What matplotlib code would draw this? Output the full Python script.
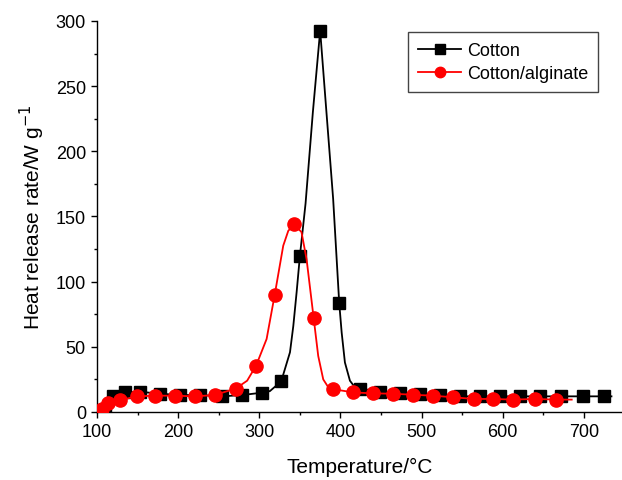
import matplotlib
matplotlib.use('Agg')
import matplotlib.pyplot as plt
from matplotlib.ticker import MultipleLocator
from matplotlib.lines import Line2D

plt.rcParams['font.family'] = ['Liberation Sans', 'DejaVu Sans']

# marker points
cotton_T = [110, 120, 134, 153, 178, 202, 227, 254, 279, 303, 327, 350, 375, 398.5,
            424, 449, 473, 498, 523, 547, 572, 597, 621, 646, 672, 699, 725]
cotton_hrr = [1, 12, 15, 15.5, 14, 13, 13, 12, 13, 14.8, 23.5, 119.5, 292.6, 83.4,
              18, 15.6, 14.8, 13.8, 13, 12, 12, 12, 12, 12, 12, 12, 12]
# extra points (between markers)
cotton_line_T = [313, 337.8, 341.9, 346, 357, 366, 382, 391, 401.5, 405.5, 411.7, 419, 734]
cotton_line_hrr = [16, 45.8, 66, 92, 160, 230, 236, 163.5, 61, 38, 24, 18, 12]

alg_T = [106, 114, 128, 149, 171, 196, 221, 245, 271, 296, 319, 343, 367, 391,
         416, 440, 465, 490, 514, 539, 564, 588, 613, 640, 666]
alg_hrr = [2, 7, 9, 12, 12.5, 12.5, 12, 13, 18, 35.5, 90, 144, 72, 17.5,
           15, 14.3, 14, 13.2, 12.5, 11.3, 10, 10, 9.5, 10, 9.5]
alg_line_T = [285, 309, 329.5, 335.7, 352, 358.3, 372.6, 378.8, 385, 685]
alg_line_hrr = [24, 56, 127.6, 139, 138, 117, 43, 25, 19, 9.5]


def merged(t, v, t2, v2):
    pts = sorted(zip(t + t2, v + v2))
    return [p[0] for p in pts], [p[1] for p in pts]


fig = plt.figure(figsize=(6.22, 4.81), dpi=100)
ax = fig.add_axes([0.156, 0.1414, 0.844, 0.8129])

cx, cy = merged(cotton_T, cotton_hrr, cotton_line_T, cotton_line_hrr)
ax.plot(cx, cy, '-', color='black', lw=1.3, zorder=2)
ax.plot(cotton_T, cotton_hrr, 's', color='black', ms=8, ls='none', zorder=3)

rx, ry = merged(alg_T, alg_hrr, alg_line_T, alg_line_hrr)
ax.plot(rx, ry, '-', color='#ff0000', lw=1.3, zorder=4)
ax.plot(alg_T, alg_hrr, 'o', color='#ff0000', ms=9.5, ls='none', zorder=5)

ax.set_xlim(100, 747)
ax.set_ylim(0, 300)
ax.xaxis.set_major_locator(MultipleLocator(100))
ax.xaxis.set_minor_locator(MultipleLocator(50))
ax.yaxis.set_major_locator(MultipleLocator(50))
ax.yaxis.set_minor_locator(MultipleLocator(25))
ax.spines['top'].set_visible(False)
ax.spines['right'].set_visible(False)
for s in ('left', 'bottom'):
    ax.spines[s].set_linewidth(1.0)
ax.tick_params(which='major', direction='out', length=4.5, width=1.0, labelsize=13)
ax.tick_params(which='minor', direction='out', length=2.5, width=1.0)

ax.set_xlabel('Temperature/°C', fontsize=15, labelpad=12)
ax.set_ylabel('Heat release rate/W g$^{-1}$', fontsize=15, labelpad=6)

handles = [Line2D([], [], color='black', lw=1.3, marker='s', ms=6.5),
           Line2D([], [], color='#ff0000', lw=1.3, marker='o', ms=7.5)]
leg = ax.legend(handles, ['Cotton', 'Cotton/alginate'],
                loc='upper right', bbox_to_anchor=(0.954, 0.972), borderaxespad=0,
                fontsize=13, handlelength=2.4, handletextpad=0.3, fancybox=False,
                framealpha=1, edgecolor='#444444', borderpad=0.55, labelspacing=0.35,
                numpoints=1)
leg.get_frame().set_linewidth(1.0)

fig.savefig('out.png', dpi=100)
